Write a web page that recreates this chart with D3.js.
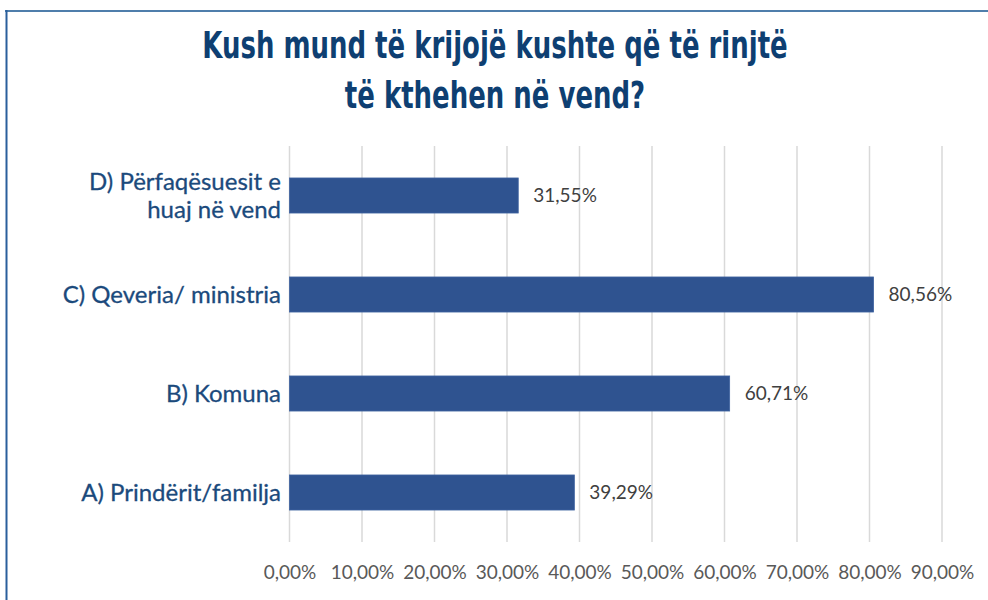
<!DOCTYPE html>
<html>
<head>
<meta charset="utf-8">
<script src="https://cdn.jsdelivr.net/npm/d3@7"></script>
<style>
  body { margin: 0; background: #fff; }
</style>
</head>
<body>
<script>
const WIDTH = 988
const HEIGHT = 600

// Données
const categories = ["D) Përfaqësuesit e|huaj në vend", "C) Qeveria/ ministria", "B) Komuna", "A) Prindërit/familja"]
const values = [31.55, 80.56, 60.71, 39.29]
const valueLabels = ["31,55%", "80,56%", "60,71%", "39,29%"]
const ticks = [0, 10, 20, 30, 40, 50, 60, 70, 80, 90]
const tickLabels = ["0,00%", "10,00%", "20,00%", "30,00%", "40,00%", "50,00%", "60,00%", "70,00%", "80,00%", "90,00%"]
const titleLines = ["Kush mund të krijojë kushte që të rinjtë", "të kthehen në vend?"]

const svg = d3.select("body").append("svg")
    .attr("width", WIDTH)
    .attr("height", HEIGHT)

// Cadre
svg.append("line")
    .attr("x1", 5).attr("x2", WIDTH).attr("y1", 11).attr("y2", 11)
    .attr("stroke", "#4f7eab").attr("stroke-width", 2)
svg.append("line")
    .attr("x1", 6.5).attr("x2", 6.5).attr("y1", 10).attr("y2", HEIGHT)
    .attr("stroke", "#2a5f9c").attr("stroke-width", 2)

// Titre (police étroite, on compresse horizontalement)
svg.append("g").selectAll("text")
    .data(titleLines)
    .enter()
    .append("text")
    .attr("transform", (d, i) => `translate(495,${58 + i * 50}) scale(0.76,1)`)
    .attr("text-anchor", "middle")
    .attr("font-family", "DejaVu Sans Condensed")
    .attr("font-weight", "bold")
    .attr("font-size", 38)
    .attr("fill", "#0e3f72")
    .text(d => d)

// Echelles
const x = d3.scaleLinear().domain([0, 90]).range([289.5, 942])
const y = d3.scaleBand().domain(categories).range([146, 542]).paddingInner(0.646).paddingOuter(0.323)

// Grille
svg.append("g").selectAll("line")
    .data(ticks)
    .enter()
    .append("line")
    .attr("x1", d => x(d)).attr("x2", d => x(d))
    .attr("y1", 146).attr("y2", 542)
    .attr("stroke", "#d9d9d9")
    .attr("stroke-width", 1.5)

// Axe x
const xAxis = svg.append("g")
    .attr("transform", "translate(0,542)")
    .call(d3.axisBottom(x).tickValues(ticks).tickSize(0).tickPadding(24)
        .tickFormat((d, i) => tickLabels[i]))
xAxis.select(".domain").remove()
xAxis.selectAll("text")
    .attr("font-family", "Lato")
    .attr("font-size", 19)
    .attr("fill", "#595959")

// Barres
svg.append("g").selectAll("rect")
    .data(values)
    .enter()
    .append("rect")
    .attr("x", x(0))
    .attr("y", (d, i) => y(categories[i]))
    .attr("width", d => x(d) - x(0))
    .attr("height", y.bandwidth())
    .attr("fill", "#2f5390")
    .attr("stroke", "#3f63a0")
    .attr("stroke-width", 0.8)

// Etiquettes de valeur
svg.append("g").selectAll("text")
    .data(values)
    .enter()
    .append("text")
    .attr("x", d => x(d) + 15)
    .attr("y", (d, i) => y(categories[i]) + y.bandwidth() / 2)
    .attr("dy", "0.35em")
    .attr("font-family", "Lato")
    .attr("font-size", 19)
    .attr("fill", "#404040")
    .text((d, i) => valueLabels[i])

// Catégories
const cat = svg.append("g").selectAll("text")
    .data(categories)
    .enter()
    .append("text")
    .attr("text-anchor", "end")
    .attr("font-family", "Lato")
    .attr("font-size", 24)
    .attr("fill", "#1b4a7c")
    .attr("stroke", "#1b4a7c")
    .attr("stroke-width", 0.3)

cat.each(function (d) {
    const parts = d.split("|")
    const cy = y(d) + y.bandwidth() / 2
    const t = d3.select(this)
    parts.forEach((p, j) => {
        t.append("tspan")
            .attr("x", 281)
            .attr("y", cy + (j - (parts.length - 1) / 2) * 28)
            .attr("dy", "0.35em")
            .text(p)
    })
})
</script>
</body>
</html>
